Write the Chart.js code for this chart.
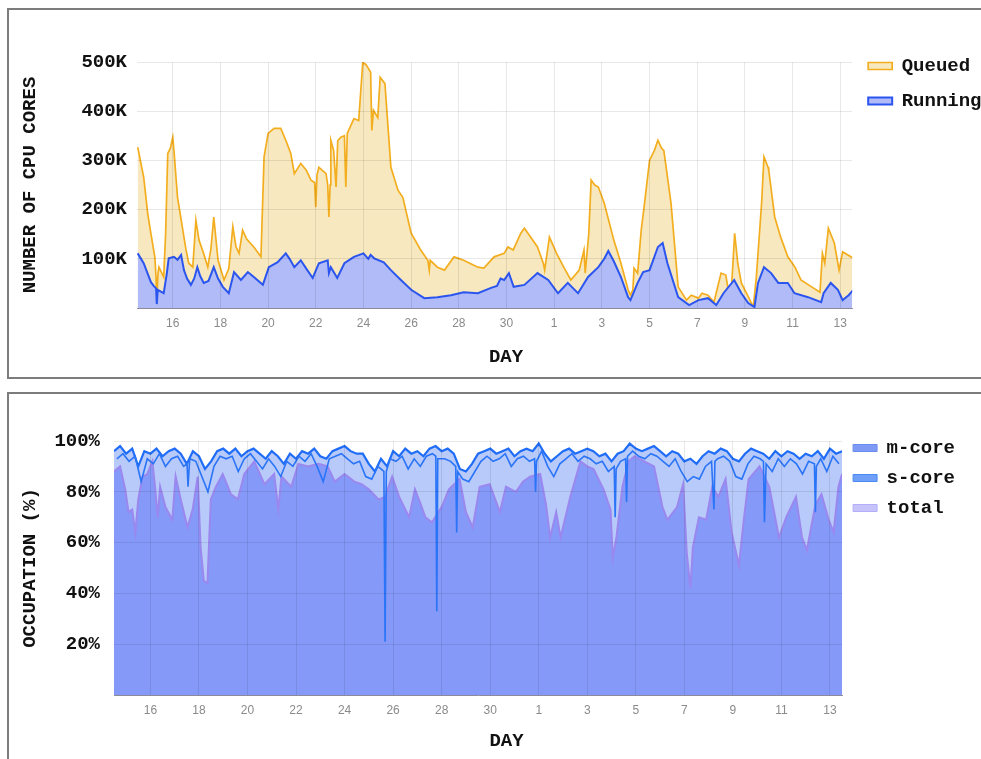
<!DOCTYPE html>
<html>
<head>
<meta charset="utf-8">
<script src="https://cdn.jsdelivr.net/npm/chart.js@4.4.1/dist/chart.umd.min.js"></script>
<style>
  html, body { margin: 0; padding: 0; background: #fff; overflow: hidden; }
  body { width: 981px; height: 759px; position: relative; }
  .panel { position: absolute; left: 7px; width: 1000px; border: 2px solid #7c7c7c; background: #fff; }
  #topPanel { top: 8px; height: 367px; }
  #bottomPanel { top: 392px; height: 400px; }
  canvas { display: block; }
</style>
</head>
<body>
<div class="panel" id="topPanel"><canvas id="coresChart" width="990" height="367"></canvas></div>
<div class="panel" id="bottomPanel"><canvas id="occChart" width="990" height="365"></canvas></div>
<script>
// x values are days counted from the 14th (2 -> 16th, 18 -> 1st of next month)
const dayTicks = [2, 4, 6, 8, 10, 12, 14, 16, 18, 20, 22, 24, 26, 28, 30];

const queuedDay = [0.53,0.78,0.95,1.08,1.25,1.30,1.33,1.38,1.42,1.62,
  1.70,1.79,1.90,2.00,2.05,2.20,2.40,2.55,2.67,2.84,
  2.97,3.10,3.30,3.47,3.60,3.72,3.90,4.15,4.35,4.52,
  4.65,4.78,4.93,5.10,5.40,5.70,5.83,6.00,6.25,6.53,
  6.75,6.95,7.10,7.37,7.60,7.80,7.95,8.00,8.05,8.13,
  8.43,8.50,8.55,8.60,8.63,8.75,8.85,8.92,9.05,9.20,
  9.26,9.32,9.60,9.80,9.97,10.10,10.18,10.30,10.35,10.42,
  10.60,10.70,10.90,11.15,11.45,11.65,12.00,12.40,12.70,12.76,
  12.80,13.10,13.40,13.80,14.20,14.80,15.05,15.48,15.90,16.06,
  16.28,16.60,16.75,17.30,17.55,17.60,17.80,18.10,18.40,18.70,
  19.05,19.25,19.30,19.45,19.55,19.70,19.85,20.10,20.50,20.80,
  21.10,21.20,21.30,21.35,21.50,21.65,21.77,22.00,22.20,22.35,
  22.50,22.60,22.90,23.20,23.55,23.75,24.05,24.20,24.45,24.70,
  25.00,25.20,25.35,25.45,25.57,25.70,25.85,26.15,26.35,26.48,
  26.70,26.80,26.97,27.00,27.25,27.50,27.80,28.10,28.35,28.80,
  29.15,29.25,29.35,29.50,29.75,29.95,30.10,30.55];
const queuedK = [327,266,192,152,103,60,12,70,83,63,
  150,314,325,347,320,225,165,120,91,83,
  178,138,110,83,120,185,97,57,80,165,
  125,111,158,140,124,104,307,355,365,365,
  340,314,273,294,280,260,255,205,270,286,
  273,250,185,250,341,320,246,340,347,350,
  246,355,385,381,499,495,489,479,361,402,
  387,469,456,286,239,225,152,118,97,77,
  97,83,77,104,97,83,81,104,111,124,
  118,152,162,124,90,77,144,111,83,57,
  77,118,71,150,260,250,246,213,138,91,
  37,26,37,81,71,158,205,300,320,341,
  325,320,213,43,16,26,20,30,26,12,
  71,67,22,51,152,91,51,22,2,63,
  213,307,286,280,185,144,104,83,57,43,
  32,111,91,162,132,77,114,101];

const runningDay = [0.53,0.78,1.08,1.20,1.30,1.33,1.37,1.62,1.75,1.83,
  2.05,2.20,2.35,2.47,2.60,2.76,2.90,3.03,3.15,3.30,
  3.50,3.72,3.90,4.10,4.35,4.57,4.86,5.15,5.40,5.78,
  6.03,6.40,6.74,6.90,7.10,7.37,7.60,7.87,8.13,8.50,
  8.55,8.63,8.90,9.20,9.60,10.00,10.20,10.30,10.45,10.85,
  11.15,11.57,12.00,12.55,13.10,13.67,14.20,14.80,15.35,15.60,
  15.75,15.90,16.10,16.30,16.75,17.30,17.75,18.16,18.57,19.00,
  19.42,19.85,20.10,20.27,20.50,20.80,21.10,21.20,21.50,21.73,
  22.00,22.35,22.55,22.75,23.20,23.66,24.05,24.45,24.80,25.10,
  25.55,25.85,26.14,26.40,26.55,26.80,27.10,27.40,27.80,28.08,
  28.65,29.20,29.30,29.60,29.90,30.10,30.35,30.55];
const runningK = [111,91,53,45,40,8,37,30,70,101,
  104,98,108,77,60,47,60,83,65,51,
  55,83,60,43,30,73,57,73,63,47,
  83,93,111,100,83,97,80,61,91,97,
  71,83,61,91,104,111,100,108,101,93,
  77,57,37,20,22,26,32,30,41,45,
  60,57,71,43,47,71,57,30,51,30,
  63,83,100,116,95,63,22,16,51,73,
  77,124,132,91,22,6,16,20,6,30,
  57,30,10,2,51,83,71,51,51,30,
  22,12,30,51,37,16,26,37];

const mcoreDay = [0.5,0.75,1.0,1.25,1.5,1.75,2.0,2.25,2.5,2.75,
  3.0,3.25,3.5,3.75,4.0,4.25,4.5,4.75,5.0,5.25,
  5.5,5.75,6.0,6.25,6.5,6.75,7.0,7.25,7.5,7.75,
  8.0,8.25,8.5,8.75,9.0,9.25,9.5,9.75,10.0,10.25,
  10.5,10.75,11.0,11.25,11.5,11.75,12.0,12.25,12.5,12.75,
  13.0,13.25,13.5,13.75,14.0,14.25,14.5,14.75,15.0,15.25,
  15.5,15.75,16.0,16.25,16.5,16.75,17.0,17.25,17.5,17.75,
  18.0,18.25,18.5,18.75,19.0,19.25,19.5,19.75,20.0,20.25,
  20.5,20.75,21.0,21.25,21.5,21.75,22.0,22.25,22.5,22.75,
  23.0,23.25,23.5,23.75,24.0,24.25,24.5,24.75,25.0,25.25,
  25.5,25.75,26.0,26.25,26.5,26.75,27.0,27.25,27.5,27.75,
  28.0,28.25,28.5,28.75,29.0,29.25,29.5,29.75,30.0,30.25,
  30.5];
const mcorePct = [96,98,95,97,90,96,95,97,94,96,
  97,95,91,96,94,89,92,96,97,95,
  97,94,96,97,95,93,96,94,91,95,
  93,96,95,97,94,93,96,97,98,96,
  95,95,91,88,93,90,96,94,97,95,
  96,94,97,98,96,97,95,89,88,91,
  95,96,97,95,96,97,94,96,97,96,
  99,95,92,94,96,97,95,96,97,96,
  94,95,92,95,96,99,97,96,97,98,
  96,94,96,95,92,93,91,94,96,95,
  97,96,93,92,95,97,96,95,93,96,
  94,96,95,93,95,94,96,93,97,95,
  96];

const scoreDay = [0.62,0.87,1.12,1.37,1.62,1.87,2.12,2.37,2.62,2.87,
  3.12,3.37,3.51,3.55,3.62,3.87,4.12,4.37,4.62,4.87,
  5.12,5.37,5.62,5.87,6.12,6.37,6.62,6.87,7.12,7.37,
  7.62,7.87,8.12,8.37,8.62,8.87,9.12,9.37,9.62,9.87,
  10.12,10.37,10.62,10.87,11.12,11.37,11.62,11.67,11.72,11.87,
  12.12,12.37,12.62,12.87,13.12,13.37,13.62,13.76,13.80,13.84,
  14.12,14.37,14.58,14.62,14.66,14.87,15.12,15.37,15.62,15.87,
  16.12,16.37,16.62,16.87,17.12,17.37,17.62,17.83,17.87,17.91,
  18.12,18.37,18.62,18.87,19.12,19.37,19.62,19.87,20.12,20.37,
  20.62,20.87,21.11,21.15,21.19,21.37,21.58,21.62,21.66,21.87,
  22.12,22.37,22.62,22.87,23.12,23.37,23.62,23.87,24.12,24.37,
  24.62,24.87,25.12,25.22,25.26,25.37,25.62,25.87,26.12,26.37,
  26.62,26.87,27.12,27.26,27.30,27.37,27.62,27.87,28.12,28.37,
  28.62,28.87,29.12,29.36,29.40,29.44,29.62,29.87,30.12,30.37];
const scorePct = [93,95,92,94,84,93,91,95,90,93,
  94,90,91,82,93,92,86,80,90,94,
  93,94,88,93,95,92,89,93,90,86,
  92,90,94,92,95,90,84,93,94,95,
  93,91,92,86,85,90,88,21,88,93,
  92,94,89,93,90,94,95,94,33,93,
  93,92,90,64,88,85,84,88,92,94,
  92,93,95,90,93,94,92,93,80,92,
  96,90,86,91,93,95,92,94,93,91,
  92,88,90,70,89,92,93,76,94,96,
  94,93,95,94,92,90,93,88,84,86,
  85,90,92,73,92,93,94,92,86,85,
  91,94,93,92,68,91,88,93,90,93,
  91,87,92,91,72,90,93,88,94,91];

const totalDay = [0.5,0.75,0.96,1.1,1.25,1.38,1.5,1.67,1.87,2.08,
  2.2,2.3,2.4,2.62,2.9,3.04,3.25,3.53,3.74,3.95,
  4.07,4.2,4.35,4.49,4.7,4.98,5.32,5.6,5.87,6.28,
  6.7,7.1,7.27,7.4,7.8,8.1,8.5,8.93,9.3,9.6,
  10.0,10.4,10.7,11.0,11.4,11.67,11.96,12.25,12.66,12.9,
  13.1,13.33,13.6,14.0,14.3,14.74,15.0,15.28,15.57,15.98,
  16.4,16.65,17.06,17.35,17.64,18.06,18.3,18.47,18.72,18.9,
  19.3,19.72,20.0,20.26,20.67,20.96,21.05,21.2,21.45,21.7,
  21.95,22.35,22.75,23.1,23.3,23.7,23.95,24.1,24.25,24.35,
  24.6,24.9,25.15,25.4,25.7,25.95,26.25,26.45,26.65,27.1,
  27.5,27.9,28.2,28.6,28.85,29.05,29.4,29.65,29.95,30.15,
  30.35,30.5];
const totalPct = [88,90,81,72,73,64,77,86,87,92,
  81,70,82,74,69,86,77,66,73,86,
  58,45,44,77,82,87,79,77,87,92,
  83,87,73,86,82,91,90,91,90,84,
  87,84,83,81,77,78,86,78,70,81,
  76,70,68,74,81,85,72,66,82,83,
  72,82,80,84,86,87,75,62,72,62,
  78,92,90,89,81,73,54,62,82,92,
  94,92,90,74,69,74,83,56,42,58,
  70,69,82,78,85,64,51,69,85,90,
  82,62,70,78,62,57,75,79,69,64,
  82,87];

// legend swatch colours for the occupation chart
const occSwatchFill = ['#7f9af4', '#6f9ff7', '#c6c4fb'];
const occSwatchLine = ['#6a8cf2', '#4a8af5', '#b3aef7'];

const toPoints = (xs, ys) => xs.map((x, i) => ({x: x, y: ys[i]}));
const dayOfMonth = v => ((v + 13) % 31) + 1;

const monoBold = {family: "'Courier New', 'Liberation Mono', monospace", size: 19, weight: 'bold'};
const gridColor = 'rgba(0,0,0,0.09)';

function dayAxis(height, title, padBottom) {
  return {
    type: 'linear',
    min: 0.5,
    max: 30.5,
    afterFit: s => { s.height = height; },
    afterBuildTicks: s => { s.ticks = dayTicks.map(v => ({value: v})); },
    grid: { color: gridColor, drawTicks: false, z: 1 },
    border: { color: '#9a9aa8', z: 1 },
    ticks: {
      padding: 8,
      color: '#8a8a8a', font: { family: "'Liberation Sans', Arial, sans-serif", size: 12 },
      callback: v => dayOfMonth(v)
    },
    title: { display: true, text: title, color: '#111', font: monoBold, padding: { top: 0, bottom: padBottom } }
  };
}

Chart.defaults.font.family = "'Liberation Mono', monospace";

new Chart(document.getElementById('coresChart'), {
  type: 'line',
  data: {
    datasets: [{
      label: 'Queued',
      data: toPoints(queuedDay, queuedK),
      borderColor: '#f3ae1f',
      backgroundColor: '#f8e8bf',
      borderWidth: 1.7,
      fill: 'origin',
      order: 2
    }, {
      label: 'Running',
      data: toPoints(runningDay, runningK),
      borderColor: '#2b55ef',
      backgroundColor: '#b0bbf8',
      borderWidth: 2,
      fill: 'origin',
      order: 1
    }]
  },
  options: {
    responsive: false,
    animation: false,
    devicePixelRatio: 1,
    layout: { padding: { right: 7.5 } },
    elements: { point: { radius: 0 }, line: { tension: 0 } },
    scales: {
      x: dayAxis(69, '  DAY', 8.6),
      y: {
        min: 0,
        max: 500,
        afterFit: s => { s.width = 128; },
        grid: { color: gridColor, drawTicks: false, z: 1 },
        border: { display: false },
        ticks: { stepSize: 100, padding: 10, color: '#111', font: monoBold, callback: v => v === 0 ? '' : v + 'K' },
        title: { display: true, text: 'NUMBER OF CPU CORES', color: '#111', font: monoBold, padding: { top: 9.6, bottom: 0 } }
      }
    },
    plugins: {
      title: { display: true, text: '', font: { size: 10, lineHeight: 1 }, padding: { top: 42, bottom: 0 } },
      tooltip: { enabled: false },
      legend: {
        position: 'right',
        align: 'start',
        title: { display: true, text: '', font: { size: 10, lineHeight: 1 }, padding: { top: 20.5, bottom: 0 } },
        labels: {
          boxWidth: 24, boxHeight: 7, padding: 16, color: '#111', font: monoBold,
          sort: (a, b) => a.datasetIndex - b.datasetIndex
        }
      }
    }
  }
});

new Chart(document.getElementById('occChart'), {
  type: 'line',
  data: {
    datasets: [{
      label: 'm-core',
      data: toPoints(mcoreDay, mcorePct),
      borderColor: '#1f6cf6',
      backgroundColor: '#b8cafa',
      borderWidth: 2.2,
      fill: 'origin',
      order: 3
    }, {
      label: 's-core',
      data: toPoints(scoreDay, scorePct),
      borderColor: '#2a74f7',
      backgroundColor: '#2a74f7',
      borderWidth: 1.6,
      fill: false,
      order: 1
    }, {
      label: 'total',
      data: toPoints(totalDay, totalPct),
      borderColor: '#9a88ef',
      backgroundColor: '#8599f9',
      borderWidth: 2,
      fill: 'origin',
      order: 2
    }]
  },
  options: {
    responsive: false,
    animation: false,
    devicePixelRatio: 1,
    layout: { padding: { right: 34 } },
    elements: { point: { radius: 0 }, line: { tension: 0 } },
    scales: {
      x: dayAxis(64, '     DAY', 6.6),
      y: {
        min: 0,
        max: 100,
        afterFit: s => { s.width = 105; },
        grid: { color: gridColor, drawTicks: false, z: 1 },
        border: { display: false },
        ticks: { stepSize: 20, padding: 14, color: '#111', font: monoBold, callback: v => v === 0 ? '' : v + '%' },
        title: { display: true, text: 'OCCUPATION (%)', color: '#111', font: monoBold, padding: { top: 9.6, bottom: 0 } }
      }
    },
    plugins: {
      title: { display: true, text: '', font: { size: 10, lineHeight: 1 }, padding: { top: 37, bottom: 0 } },
      tooltip: { enabled: false },
      legend: {
        position: 'right',
        align: 'start',
        title: { display: true, text: '', font: { size: 10, lineHeight: 1 }, padding: { top: 23.5, bottom: 0 } },
        labels: {
          boxWidth: 24, boxHeight: 7, padding: 11, color: '#111', font: monoBold,
          sort: (a, b) => a.datasetIndex - b.datasetIndex,
          generateLabels: chart => Chart.defaults.plugins.legend.labels.generateLabels(chart).map(item =>
            Object.assign(item, {
              fillStyle: occSwatchFill[item.datasetIndex],
              strokeStyle: occSwatchLine[item.datasetIndex],
              lineWidth: 1
            }))
        }
      }
    }
  }
});
</script>
</body>
</html>
